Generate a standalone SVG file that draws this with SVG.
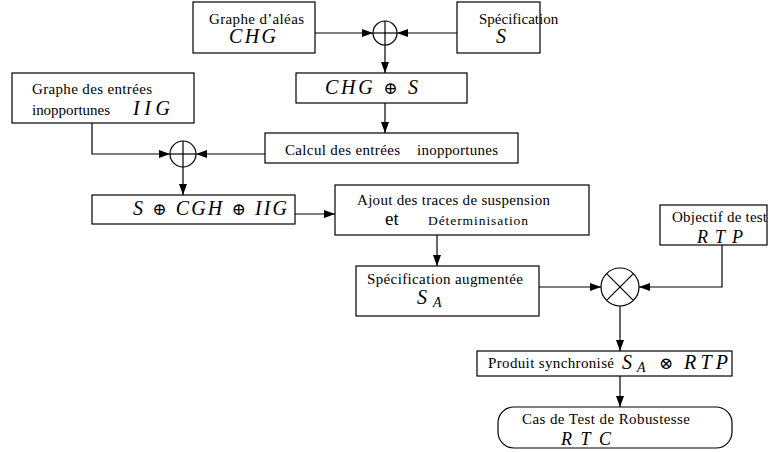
<svg xmlns="http://www.w3.org/2000/svg" width="773" height="452" viewBox="0 0 773 452">
<style>
.box{fill:#fff;stroke:#000;stroke-width:1.2}
.ln{fill:none;stroke:#000;stroke-width:1.2}
text{font-family:'Liberation Serif','DejaVu Serif',serif;fill:#000}
.t{font-size:15px}
.m{font-size:20px;font-style:italic}
.sub{font-size:14px}
.op{font-style:normal;font-size:17px}
</style>
<defs>
<marker id="arr" markerUnits="userSpaceOnUse" markerWidth="11" markerHeight="8" refX="11" refY="4" orient="auto">
<path d="M0,0 L11,4 L0,8 z" fill="#000"/>
</marker>
</defs>
<rect width="773" height="452" fill="#fff"/>
<g id="connectors">
<line class="ln" x1="315" y1="33" x2="373" y2="33" marker-end="url(#arr)"/>
<line class="ln" x1="457" y1="33" x2="397" y2="33" marker-end="url(#arr)"/>
<line class="ln" x1="385" y1="45" x2="385" y2="73" marker-end="url(#arr)"/>
<line class="ln" x1="385" y1="103" x2="385" y2="133" marker-end="url(#arr)"/>
<line class="ln" x1="265" y1="154" x2="196" y2="154" marker-end="url(#arr)"/>
<polyline class="ln" points="92,123 92,154 170,154" marker-end="url(#arr)"/>
<line class="ln" x1="183" y1="167" x2="183" y2="195" marker-end="url(#arr)"/>
<line class="ln" x1="295" y1="214" x2="335" y2="214" marker-end="url(#arr)"/>
<line class="ln" x1="437" y1="235" x2="437" y2="266" marker-end="url(#arr)"/>
<line class="ln" x1="539" y1="287" x2="601" y2="287" marker-end="url(#arr)"/>
<polyline class="ln" points="722,245 722,287 639,287" marker-end="url(#arr)"/>
<line class="ln" x1="620" y1="306" x2="620" y2="351" marker-end="url(#arr)"/>
<line class="ln" x1="620" y1="376" x2="620" y2="407" marker-end="url(#arr)"/>
</g>
<g id="oplus1">
<circle class="ln" cx="385" cy="33" r="12"/>
<line class="ln" x1="373" y1="33" x2="397" y2="33"/>
<line class="ln" x1="385" y1="21" x2="385" y2="45"/>
</g>
<g id="oplus2">
<circle class="ln" cx="183" cy="154" r="13"/>
<line class="ln" x1="170" y1="154" x2="196" y2="154"/>
<line class="ln" x1="183" y1="141" x2="183" y2="167"/>
</g>
<g id="otimes">
<circle class="ln" cx="620" cy="287" r="19"/>
<line class="ln" x1="606.6" y1="273.6" x2="633.4" y2="300.4"/>
<line class="ln" x1="633.4" y1="273.6" x2="606.6" y2="300.4"/>
</g>
<g id="chg">
<rect class="box" x="193" y="2" width="122" height="51"/>
<text class="t" x="209" y="24" textLength="95">Graphe d’aléas</text>
<text class="m" x="229" y="43" textLength="47">CHG</text>
</g>
<g id="spec">
<rect class="box" x="457" y="2" width="83" height="51"/>
<text class="t" x="479" y="24">Spécification</text>
<text class="m" x="496" y="43">S</text>
</g>
<g id="chg-s">
<rect class="box" x="296" y="73" width="171" height="30"/>
<text class="m" x="325" y="94" textLength="93">CHG <tspan class="op">⊕</tspan> S</text>
</g>
<g id="calcul">
<rect class="box" x="265" y="133" width="253" height="30"/>
<text class="t" x="285" y="155" textLength="115">Calcul des entrées</text>
<text class="t" x="417" y="155" textLength="81">inopportunes</text>
</g>
<g id="iig">
<rect class="box" x="12" y="73" width="182" height="50"/>
<text class="t" x="32" y="94" textLength="120">Graphe des entrées</text>
<text class="t" x="32" y="115" textLength="78">inopportunes</text>
<text class="m" x="133" y="115" textLength="37">IIG</text>
</g>
<g id="sum">
<rect class="box" x="92" y="195" width="203" height="29"/>
<text class="m" x="133" y="215" textLength="154">S <tspan class="op">⊕</tspan> CGH <tspan class="op">⊕</tspan> IIG</text>
</g>
<g id="ajout">
<rect class="box" x="335" y="185" width="254" height="50"/>
<text class="t" x="357" y="205" textLength="193">Ajout des traces de suspension</text>
<text class="t" x="385" y="225" style="font-size:19px">et</text>
<text class="t" x="428" y="225" style="font-size:13.5px" textLength="100">Déterminisation</text>
</g>
<g id="spec-aug">
<rect class="box" x="356" y="266" width="183" height="50"/>
<text class="t" x="367" y="284" textLength="156">Spécification augmentée</text>
<text class="m" x="417" y="304">S<tspan class="sub" x="433" y="307">A</tspan></text>
</g>
<g id="objectif">
<rect class="box" x="660" y="205" width="107" height="40"/>
<text class="t" x="672" y="222" textLength="95">Objectif de test</text>
<text class="m" x="697" y="243" style="font-size:18px" textLength="46">RTP</text>
</g>
<g id="produit">
<rect class="box" x="477" y="351" width="255" height="25"/>
<text class="t" x="488" y="368" textLength="126">Produit synchronisé</text>
<text class="m" x="622" y="369">S<tspan class="sub" x="637" y="372">A</tspan><tspan class="op" x="659" y="369">⊗</tspan><tspan x="684" y="369" textLength="44">RTP</tspan></text>
</g>
<g id="rtc">
<rect class="box" x="498" y="407" width="234" height="41" rx="16" ry="16"/>
<text class="t" x="522" y="424" textLength="168">Cas de Test de Robustesse</text>
<text class="m" x="561" y="445" style="font-size:18px" textLength="50">RTC</text>
</g>
</svg>
